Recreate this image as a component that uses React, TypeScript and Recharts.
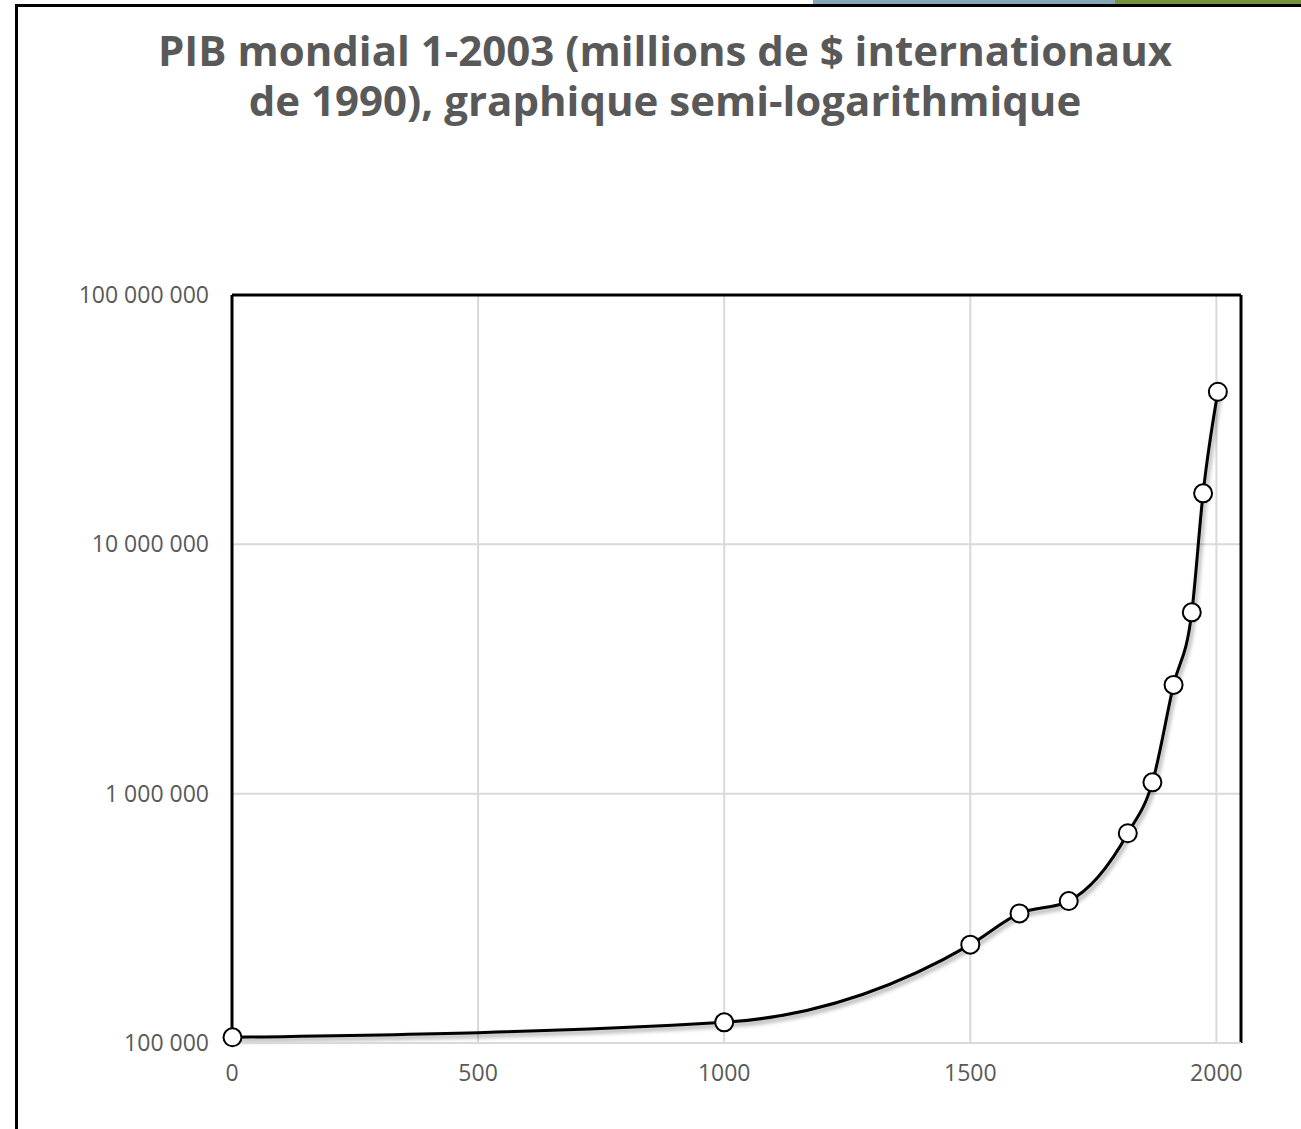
import { LineChart, Line, XAxis, YAxis, CartesianGrid, ReferenceLine } from 'recharts'

const years = [1, 1000, 1500, 1600, 1700, 1820, 1870, 1913, 1950, 1973, 2003]
const gdp = [105402, 121000, 248000, 331000, 371000, 694000, 1110000, 2730000, 5336000, 16020000, 40913000]
const xTicks = [0, 500, 1000, 1500, 2000]
const yTicks = [100000, 1000000, 10000000, 100000000]
const titleLines = ['PIB mondial 1-2003 (millions de $ internationaux', 'de 1990), graphique semi-logarithmique']

const xMax = 2050
const yMin = 100000
const yMax = 100000000

const data = years.map((y, i) => ({ year: y, gdp: gdp[i] }))

const fmt = (v: number) => v.toLocaleString('en-US').replace(/,/g, ' ')

const tickStyle = { fill: '#595959', fontSize: 23, fontFamily: '"Open Sans", sans-serif' }

export default function App() {
  return (
    <div style={{ position: 'absolute', left: 0, top: 0, width: 1301, height: 1129, background: '#fff', overflow: 'hidden' }}>
      <style>{`.recharts-line { filter: drop-shadow(2px 3px 2px rgba(0,0,0,0.4)); }`}</style>
      {/* page frame and top decoration */}
      <div style={{ position: 'absolute', left: 813, top: 0, width: 302, height: 5, background: '#86a7ba' }} />
      <div style={{ position: 'absolute', left: 1115, top: 0, width: 186, height: 5, background: '#76923c' }} />
      <div style={{ position: 'absolute', left: 15, top: 4, width: 1290, height: 1200, borderLeft: '3px solid #000', borderTop: '3px solid #000' }} />
      <div
        style={{
          position: 'absolute',
          left: 0,
          width: 1330,
          top: 25,
          textAlign: 'center',
          whiteSpace: 'pre-line',
          fontFamily: '"Open Sans", sans-serif',
          fontWeight: 700,
          fontSize: 42,
          lineHeight: '50px',
          color: '#595959',
        }}
      >
        {titleLines.join('\n')}
      </div>
      <div style={{ position: 'absolute', left: 0, top: 0 }}>
        <LineChart width={1301} height={1129} data={data} margin={{ top: 295, right: 60, bottom: 46, left: 0 }}>
          <CartesianGrid stroke="#d9d9d9" strokeWidth={2} />
          <XAxis
            dataKey="year"
            type="number"
            domain={[0, xMax]}
            ticks={xTicks}
            tick={tickStyle}
            tickLine={false}
            tickSize={0}
            tickMargin={22}
            axisLine={{ stroke: '#d9d9d9', strokeWidth: 2 }}
            height={40}
          />
          <YAxis
            scale="log"
            type="number"
            domain={[yMin, yMax]}
            ticks={yTicks}
            tickFormatter={fmt}
            tick={tickStyle}
            tickLine={false}
            tickSize={0}
            tickMargin={23}
            axisLine={{ stroke: '#000', strokeWidth: 3 }}
            width={232}
          />
          {/* plot frame: top and right edges */}
          <ReferenceLine y={yMax} stroke="#000" strokeWidth={3} />
          <ReferenceLine x={xMax} stroke="#000" strokeWidth={3} />
          <Line
            type="monotone"
            dataKey="gdp"
            stroke="#000"
            strokeWidth={3}
            dot={{ r: 9, fill: '#fff', stroke: '#000', strokeWidth: 2 }}
            isAnimationActive={false}
          />
        </LineChart>
      </div>
    </div>
  )
}
